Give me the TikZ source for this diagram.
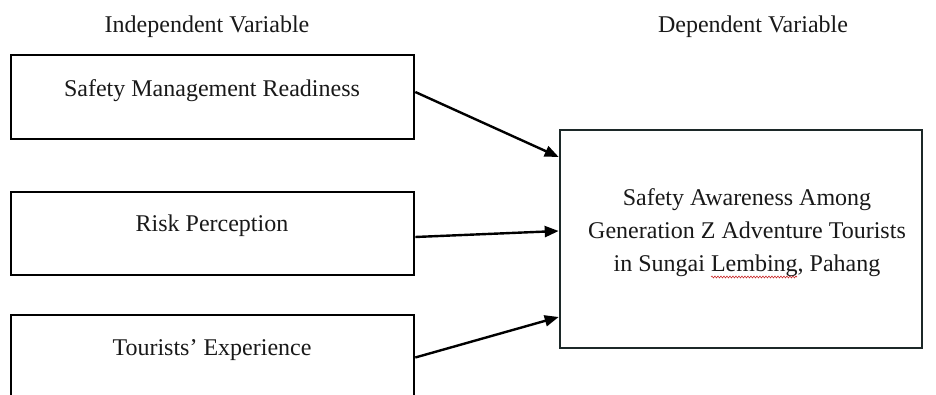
\documentclass[tikz,border=0pt]{standalone}
\usepackage{fontspec}
\setmainfont{Liberation Serif}
\usetikzlibrary{arrows.meta,decorations.pathmorphing}
\definecolor{dvborder}{RGB}{28,40,40}
\definecolor{spell}{RGB}{200,40,40}
\definecolor{txt}{RGB}{25,25,25}
\tikzset{
  ivbox/.style={draw=black, line width=2.6pt, minimum width=403pt, inner sep=0pt},
  dvbox/.style={draw=dvborder, line width=2.6pt, minimum width=362pt, minimum height=218pt, inner sep=0pt},
  lbl/.style={font=\fontsize{24}{33}\selectfont, text=txt, anchor=base, inner sep=0pt},
  conn/.style={line width=2.4pt, -{Triangle[length=14pt,width=11pt]}},
}
\begin{document}
\begin{tikzpicture}[x=1pt,y=-1pt]
\useasboundingbox (0,0) rectangle (936,395);
\clip (0,0) rectangle (936,395);
\fill[white] (0,0) rectangle (936,395);

\node[lbl] (hiv) at (207,33) {Independent Variable};
\node[lbl] (hdv) at (753,33) {Dependent Variable};

\node[ivbox, minimum height=84pt] (b1) at (212.5,97) {};
\node[ivbox, minimum height=83pt] (b2) at (212.5,233.5) {};
\node[ivbox, minimum height=95pt] (b3) at (212.5,362.5) {};

\node[lbl] (t1) at (212,97) {Safety Management Readiness};
\node[lbl] (t2) at (212,232) {Risk Perception};
\node[lbl] (t3) at (212,355) {Tourists’ Experience};

\node[dvbox] (dv) at (741,239) {};
\node[font=\fontsize{24}{33}\selectfont, text=txt, align=center, inner sep=0pt] (tdv) at (747,232.5)
  {Safety Awareness Among\\Generation Z Adventure Tourists\\in Sungai Lembing, Pahang};

\coordinate (w1) at (711,277);
\coordinate (w2) at (797,277);
\draw[spell, line width=0.6pt, decorate, decoration={snake, amplitude=0.9pt, segment length=3pt}] (w1) -- (w2);

\draw[conn] ([yshift=5pt]b1.east) -- ([yshift=82pt]dv.west);
\draw[conn] ([yshift=-3.5pt]b2.east) -- ([yshift=8pt]dv.west);
\draw[conn] ([yshift=5pt]b3.east) -- ([yshift=-78pt]dv.west);
\end{tikzpicture}
\end{document}
